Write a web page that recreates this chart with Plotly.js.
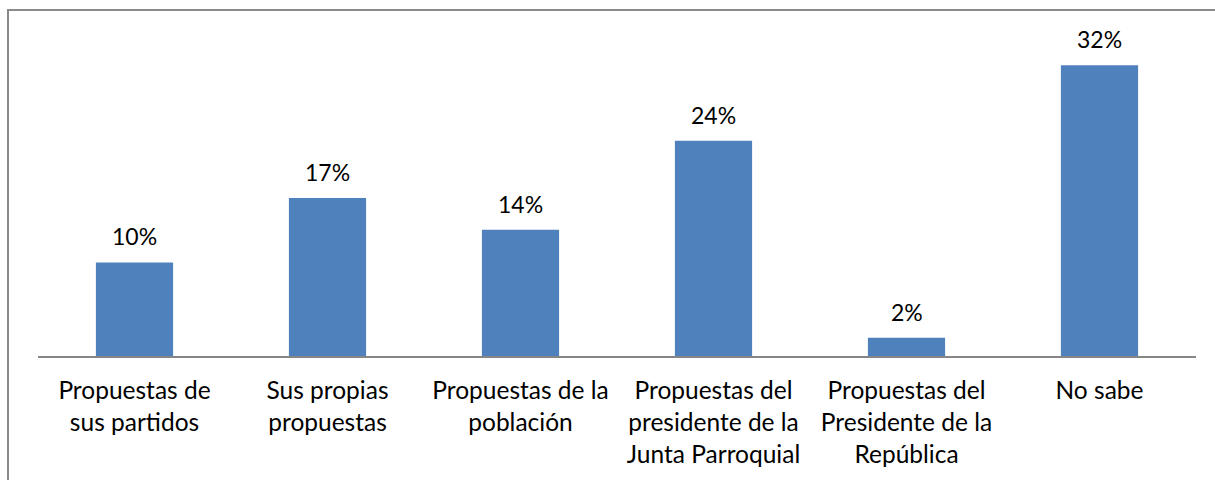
<!DOCTYPE html>
<html>
<head>
<meta charset="utf-8">
<script src="https://cdn.plot.ly/plotly-3.0.1.min.js"></script>
<style>
html,body{margin:0;padding:0;overflow:hidden;background:#fff;}
#chart{width:1215px;height:480px;position:absolute;left:0;top:0;}
#frame{position:absolute;left:7px;top:9px;width:1230px;height:500px;border:2px solid #8a8a8a;pointer-events:none;}
</style>
</head>
<body>
<div id="chart"></div>
<div id="frame"></div>
<script>
const categories = [
  "Propuestas de<br>sus partidos",
  "Sus propias<br>propuestas",
  "Propuestas de la<br>población",
  "Propuestas del<br>presidente de la<br>Junta Parroquial",
  "Propuestas del<br>Presidente de la<br>República",
  "No sabe"
];
const values = [10.3, 17.4, 13.9, 23.7, 2.0, 32.0];
const valueLabels = ["10%", "17%", "14%", "24%", "2%", "32%"];

const FONT = "Lato, 'Open Sans', sans-serif";

const annotations = categories.map((c, i) => ({
  x: c, y: values[i], xref: 'x', yref: 'y',
  text: valueLabels[i], showarrow: false,
  yanchor: 'bottom', yshift: 10,
  font: {family: FONT, size: 23, color: '#000'}
}));

Plotly.newPlot('chart', [{
  type: 'bar',
  x: categories,
  y: values,
  marker: {color: '#4F81BD'},
  hoverinfo: 'none'
}], {
  width: 1215, height: 480,
  margin: {l: 38, r: 19, t: 38, b: 124},
  paper_bgcolor: '#fff', plot_bgcolor: '#fff',
  bargap: 0.6,
  showlegend: false,
  font: {family: FONT, size: 24.5, color: '#000'},
  xaxis: {
    showline: true, linecolor: '#868686', linewidth: 1.5,
    ticks: '', showgrid: false, zeroline: false,
    tickfont: {family: FONT, size: 24.5, color: '#000'},
    ticklabelstandoff: 12,
    tickangle: 0, automargin: false
  },
  yaxis: {
    range: [0, 35], visible: false, showgrid: false, zeroline: false
  },
  annotations: annotations
}, {staticPlot: true});
</script>
</body>
</html>
